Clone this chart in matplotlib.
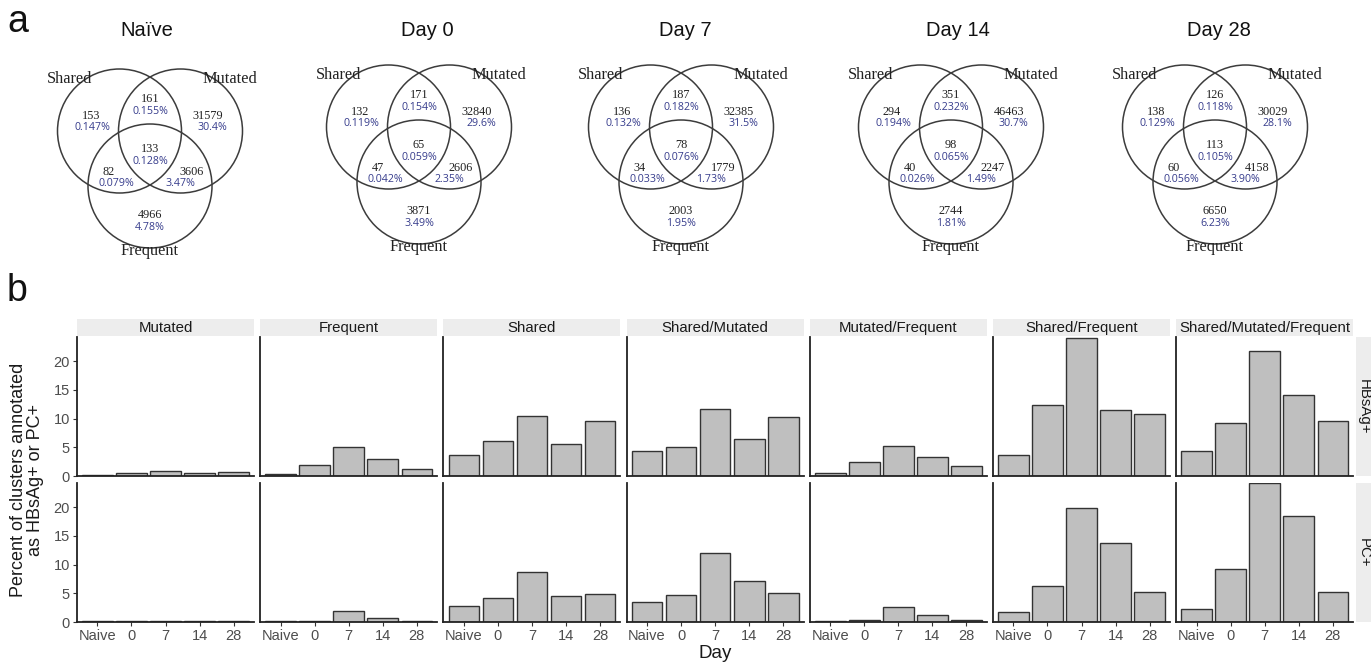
import matplotlib
matplotlib.use("Agg")
import matplotlib.pyplot as plt
from matplotlib.patches import Circle

W, H = 1371, 664

# ---- panel a: Venn counts (regions: S, S&M, M, S&M&F, S&F, M&F, F) ----
venn_titles = ["Naïve", "Day 0", "Day 7", "Day 14", "Day 28"]
naive_counts = [153, 161, 31579, 133, 82, 3606, 4966]
day0_counts = [132, 171, 32840, 65, 47, 2606, 3871]
day7_counts = [136, 187, 32385, 78, 34, 1779, 2003]
day14_counts = [294, 351, 46463, 98, 40, 2247, 2744]
day28_counts = [138, 126, 30029, 113, 60, 4158, 6650]
naive_pcts = ["0.147%", "0.155%", "30.4%", "0.128%", "0.079%", "3.47%", "4.78%"]
day0_pcts = ["0.119%", "0.154%", "29.6%", "0.059%", "0.042%", "2.35%", "3.49%"]
day7_pcts = ["0.132%", "0.182%", "31.5%", "0.076%", "0.033%", "1.73%", "1.95%"]
day14_pcts = ["0.194%", "0.232%", "30.7%", "0.065%", "0.026%", "1.49%", "1.81%"]
day28_pcts = ["0.129%", "0.118%", "28.1%", "0.105%", "0.056%", "3.90%", "6.23%"]
set_names = ["Shared", "Mutated", "Frequent"]

# ---- panel b: percent of clusters annotated ----
days = ["Naive", "0", "7", "14", "28"]
groups = ["Mutated", "Frequent", "Shared", "Shared/Mutated",
          "Mutated/Frequent", "Shared/Frequent", "Shared/Mutated/Frequent"]
rows = ["HBsAg+", "PC+"]
hbsag_pct = [
    [0.2, 0.5, 0.8, 0.5, 0.7],
    [0.4, 2.0, 5.0, 3.0, 1.3],
    [3.7, 6.1, 10.4, 5.5, 9.5],
    [4.3, 5.0, 11.6, 6.4, 10.3],
    [0.5, 2.4, 5.3, 3.3, 1.7],
    [3.6, 12.4, 24.0, 11.5, 10.8],
    [4.4, 9.2, 21.7, 14.1, 9.6],
]
pc_pct = [
    [0.1, 0.1, 0.2, 0.1, 0.1],
    [0.1, 0.2, 1.9, 0.75, 0.2],
    [2.85, 4.1, 8.7, 4.6, 4.8],
    [3.4, 4.65, 12.1, 7.1, 5.0],
    [0.15, 0.3, 2.55, 1.3, 0.3],
    [1.8, 6.3, 19.8, 13.8, 5.2],
    [2.2, 9.3, 24.2, 18.4, 5.3],
]

SANS = "Liberation Sans"
SERIF = "Liberation Serif"
PCT_COL = "#363c8c"


def px_box(x0, y0, w, h):
    return [x0 / W, 1 - (y0 + h) / H, w / W, h / H]


fig = plt.figure(figsize=(W / 100, H / 100), dpi=100)

# ---------- Venn diagrams ----------
venn_cx = [150, 419, 681, 951, 1215]
venn_cy = [131, 127, 127, 127, 127]
title_x = [147, 427, 685, 958, 1219]
R = 62
circle_xy = [(-30.5, 0), (30.5, 0), (0, 55)]
num_xy = [(-59, -15), (0, -32), (58, -15), (0, 18), (-41, 41), (42, 41), (0, 84)]
pct_xy = [(-58, -3), (0, -20), (62, -3), (0, 30), (-34, 52), (30, 53), (0, 96)]
label_xy = [(-80, -52), (80, -52), (0, 120)]

all_counts = [naive_counts, day0_counts, day7_counts, day14_counts, day28_counts]
all_pcts = [naive_pcts, day0_pcts, day7_pcts, day14_pcts, day28_pcts]

for i, title in enumerate(venn_titles):
    cx, cy = venn_cx[i], venn_cy[i]
    ax = fig.add_axes(px_box(cx - 135, cy - 100, 270, 240))
    ax.set_xlim(-135, 135)
    ax.set_ylim(140, -100)
    ax.axis("off")
    for xy in circle_xy:
        ax.add_patch(Circle(xy, R, fill=False, edgecolor="#3c3c3c", lw=1.1))
    for (nx, ny), (qx, qy), n, p in zip(num_xy, pct_xy, all_counts[i], all_pcts[i]):
        ax.text(nx, ny, str(n), ha="center", va="center", fontsize=8.8,
                family=SERIF, color="#222222")
        ax.text(qx, qy, p, ha="center", va="center", fontsize=7.7,
                family="Open Sans", color=PCT_COL)
    for (lx, ly), name in zip(label_xy, set_names):
        ax.text(lx, ly, name, ha="center", va="center", fontsize=11.8,
                family=SERIF, color="#222222")
    fig.text(title_x[i] / W, 1 - 30 / H, title, ha="center", va="center",
             fontsize=14.5, family=SANS, color="#111111")

fig.text(7 / W, 1 - 32 / H, "a", ha="left", va="baseline", fontsize=27,
         family=SANS, color="#111111")
fig.text(7 / W, 1 - 301 / H, "b", ha="left", va="baseline", fontsize=27,
         family=SANS, color="#111111")

# ---------- facet bar panels ----------
panel_left0 = 77
panel_step = 183.2
panel_w = 177.1
row_top = [337, 483]
row_h = 139
ymax = 24.2
x = list(range(len(days)))

for r, data in enumerate([hbsag_pct, pc_pct]):
    for c, grp in enumerate(groups):
        left = panel_left0 + c * panel_step
        ax = fig.add_axes(px_box(left, row_top[r], panel_w, row_h))
        ax.bar(x, data[c], width=0.9, color="#bfbfbf", edgecolor="#333333",
               linewidth=1.0)
        ax.set_xlim(-0.6, 4.6)
        ax.set_ylim(0, ymax)
        for s in ["top", "right"]:
            ax.spines[s].set_visible(False)
        for s in ["left", "bottom"]:
            ax.spines[s].set_color("#222222")
            ax.spines[s].set_linewidth(1.3)
        ax.set_yticks([0, 5, 10, 15, 20])
        ax.set_xticks(x)
        if c == 0:
            ax.tick_params(axis="y", length=3, width=0.8, color="#333333",
                           pad=2, labelsize=10.5, labelcolor="#4d4d4d")
            for t in ax.get_yticklabels():
                t.set_family(SANS)
        else:
            ax.tick_params(axis="y", length=0, labelleft=False)
        if r == 1:
            ax.set_xticklabels(days)
            ax.tick_params(axis="x", length=3, width=0.8, color="#333333",
                           pad=2, labelsize=10.5, labelcolor="#4d4d4d")
            for t in ax.get_xticklabels():
                t.set_family(SANS)
        else:
            ax.tick_params(axis="x", length=0, labelbottom=False)

        if r == 0:
            sax = fig.add_axes(px_box(left, 319, panel_w, 17))
            sax.set_facecolor("#ededed")
            sax.set_xticks([])
            sax.set_yticks([])
            for s in sax.spines.values():
                s.set_visible(False)
            sax.text(0.5, 0.45, grp, ha="center", va="center", fontsize=10.8,
                     family=SANS, color="#1a1a1a", transform=sax.transAxes)

    rax = fig.add_axes(px_box(1356, row_top[r], 15, row_h))
    rax.set_facecolor("#ededed")
    rax.set_xticks([])
    rax.set_yticks([])
    for s in rax.spines.values():
        s.set_visible(False)
    rax.text(0.5, 0.5, rows[r], ha="center", va="center", rotation=-90,
             fontsize=10.8, family=SANS, color="#1a1a1a", transform=rax.transAxes)

fig.text(27 / W, 1 - 480 / H, "Percent of clusters annotated\nas HBsAg+ or PC+",
         ha="center", va="center", rotation=90, fontsize=13, family=SANS,
         color="#1a1a1a", linespacing=1.05)
fig.text(715 / W, 1 - 653 / H, "Day", ha="center", va="center", fontsize=13.5,
         family=SANS, color="#1a1a1a")

fig.savefig("out.png", dpi=100)
